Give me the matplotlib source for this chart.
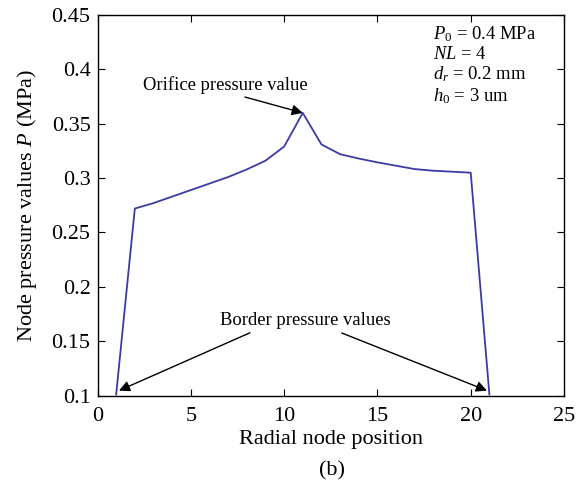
import numpy as np
import matplotlib
matplotlib.use('Agg')
from matplotlib import pyplot as plt

plt.rcParams['font.family'] = ['Liberation Serif', 'DejaVu Serif']
plt.rcParams['mathtext.fontset'] = 'custom'
plt.rcParams['mathtext.rm'] = 'Liberation Serif'
plt.rcParams['mathtext.it'] = 'Liberation Serif:italic'

node = [1, 2, 3, 4, 5, 6, 7, 8, 9, 10, 11, 12, 13, 14, 15, 16, 17, 18, 19, 20, 21]
pressure = [0.101, 0.272, 0.277, 0.283, 0.289, 0.295, 0.301, 0.308, 0.316, 0.329,
            0.360, 0.331, 0.322, 0.318, 0.3145, 0.3114, 0.3083, 0.3068, 0.3059, 0.305, 0.101]

fig = plt.figure(figsize=(5.86, 4.86), dpi=100)
ax = fig.add_axes([0.1664, 0.1862, 0.7961, 0.7828])
ax.plot(node, pressure, color='#3b3ba8', lw=1.3)

ax.set_xlim(0, 25)
ax.set_ylim(0.1, 0.45)
ax.set_xticks([0, 5, 10, 15, 20, 25])
ax.set_yticks([0.1, 0.15, 0.2, 0.25, 0.3, 0.35, 0.4, 0.45])
ax.set_yticklabels(['0.1', '0.15', '0.2', '0.25', '0.3', '0.35', '0.4', '0.45'])
ax.tick_params(direction='in', top=True, right=True, labelsize=16, length=5)
ax.tick_params(axis='x', pad=8)
ax.tick_params(axis='y', pad=5)
for s in ax.spines.values():
    s.set_linewidth(1.0)

ax.set_xlabel('Radial node position', fontsize=16, labelpad=3)
ax.set_ylabel('Node pressure values $\\mathit{P}$ (MPa)', fontsize=16, labelpad=9)
fig.text(0.5664, 0.022, '(b)', fontsize=16, ha='center')

arr = dict(arrowstyle='-|>', color='black', lw=1.0, mutation_scale=16, shrinkA=0, shrinkB=0)
ax.text(6.83, 0.3856, 'Orifice pressure value', fontsize=13.4, ha='center', va='center')
ax.annotate('', xy=(11, 0.360), xytext=(7.9, 0.3746), arrowprops=arr)

ax.text(11.15, 0.1694, 'Border pressure values', fontsize=13.4, ha='center', va='center')
ax.annotate('', xy=(1.15, 0.1045), xytext=(8.17, 0.1577), arrowprops=arr)
ax.annotate('', xy=(20.87, 0.1045), xytext=(13.09, 0.1575), arrowprops=arr)

params = '$\\mathit{P}_0$ = 0.4 MPa\n$\\mathit{NL}$ = 4\n$\\mathit{d_r}$ = 0.2 mm\n$\\mathit{h}_0$ = 3 um'
ax.text(18.0, 0.4415, params, fontsize=13.4, ha='left', va='top', linespacing=1.12)

fig.savefig('out.png', dpi=100)
